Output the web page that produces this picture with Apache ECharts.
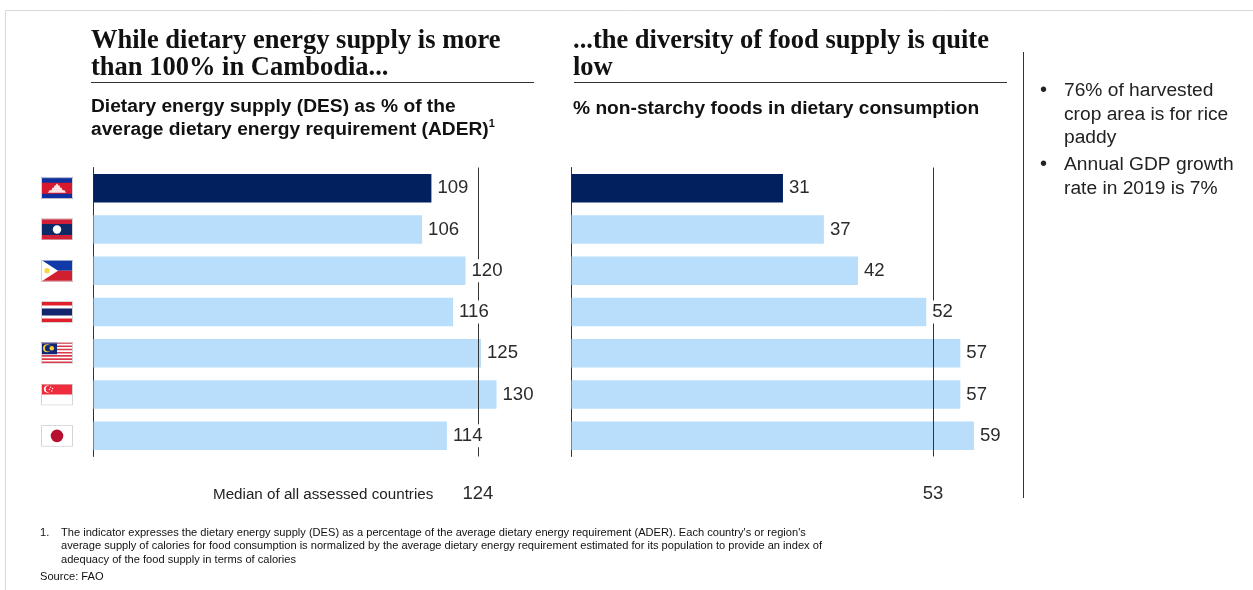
<!DOCTYPE html>
<html><head><meta charset="utf-8">
<style>html,body{margin:0;padding:0;background:#fff}#c{width:1253px;height:590px}</style>
<script src="https://cdn.jsdelivr.net/npm/echarts@6/dist/echarts.min.js"></script>
</head><body><div id="c"></div>
<script>
const countries = ['Cambodia','Laos','Philippines','Thailand','Malaysia','Singapore','Japan'];
const desValues = [109,106,120,116,125,130,114];
const diversityValues = [31,37,42,52,57,57,59];
const desMedian = 124;
const diversityMedian = 53;
const DARK = '#03205e', LIGHT = '#b8defc', TXT = '#2b2b2b';

function svg(body){
  const s = '<svg xmlns="http://www.w3.org/2000/svg" width="32" height="22" viewBox="0 0 32 22">'+body+
    '<rect x="0.5" y="0.5" width="31" height="21" fill="none" stroke="#d4d4d4"/></svg>';
  return 'data:image/svg+xml;charset=utf-8,'+encodeURIComponent(s);
}
const flags = {
  Cambodia: svg('<rect width="32" height="22" fill="#0f2f9e"/><rect y="5.5" width="32" height="11" fill="#d8182c"/><path d="M7 15.5l1.5-2.5 2 0 .8-2.5 1.4 0 .8-2.2 1 0 1.5-2.3 1.5 2.3 1 0 .8 2.2 1.4 0 .8 2.5 2 0 1.5 2.5z" fill="#fbe3e3"/>'),
  Laos: svg('<rect width="32" height="22" fill="#d01f36"/><rect y="5.5" width="32" height="11" fill="#0d2a66"/><circle cx="16" cy="11" r="4.2" fill="#fff"/>'),
  Philippines: svg('<rect width="32" height="11" fill="#0f3aa8"/><rect y="11" width="32" height="11" fill="#d21f30"/><path d="M0 0L17 11 0 22z" fill="#fff"/><circle cx="6" cy="11" r="2.6" fill="#f8d440"/>'),
  Thailand: svg('<rect width="32" height="22" fill="#fff"/><rect y="1" width="32" height="3.6" fill="#e0202c"/><rect y="17.4" width="32" height="3.6" fill="#e0202c"/><rect y="7.4" width="32" height="7.2" fill="#12246c"/>'),
  Malaysia: svg('<rect width="32" height="22" fill="#fff"/>'+[0,3.2,6.4,9.6,12.8,16,19.2].map(y=>'<rect y="'+y+'" width="32" height="1.6" fill="#db3a4a"/>').join('')+'<rect width="16" height="12" fill="#11267a"/><circle cx="6" cy="6" r="4" fill="#f6cf2c"/><circle cx="7.3" cy="6" r="3.3" fill="#11267a"/><circle cx="10.8" cy="6" r="2.3" fill="#f6cf2c"/>'),
  Singapore: svg('<rect width="32" height="22" fill="#fff"/><rect width="32" height="11" fill="#ee2c3c"/><circle cx="6.5" cy="5.5" r="3.6" fill="#fff"/><circle cx="8" cy="5.5" r="3.3" fill="#ee2c3c"/><circle cx="9.6" cy="3.6" r=".7" fill="#fff"/><circle cx="11.6" cy="5" r=".7" fill="#fff"/><circle cx="8.4" cy="5.8" r=".7" fill="#fff"/><circle cx="10.8" cy="7.4" r=".7" fill="#fff"/>'),
  Japan: svg('<rect width="32" height="22" fill="#fff"/><circle cx="16" cy="11" r="6.3" fill="#b80e2f"/>')
};
const flagRich = {};
countries.forEach(c => { flagRich[c] = {width:32, height:22, backgroundColor:{image:flags[c]}}; });

function barData(vals){ return vals.map((v,i)=>({value:v,itemStyle:{color:i===0?DARK:LIGHT}})); }
function seriesPair(idx, vals, median){
  return [{
    type:'bar', xAxisIndex:idx, yAxisIndex:idx, data:barData(vals), barWidth:28.5, z:2, silent:true,
    animation:false,
    markLine:{silent:true, symbol:'none', z:3, animation:false, lineStyle:{color:'#333',width:1,type:'solid'},
      label:{show:true, position:'end', distance:28, color:TXT, fontSize:18.5, fontFamily:'Liberation Sans', formatter:'{c}'},
      data:[{xAxis:median}]}
  },{
    type:'bar', xAxisIndex:idx, yAxisIndex:idx, data:vals, barWidth:28.5, barGap:'-100%', z:5, silent:true,
    animation:false, itemStyle:{color:'transparent'},
    label:{show:true, position:'right', distance:3, color:TXT, fontSize:18.6, fontFamily:'Liberation Sans',
      backgroundColor:'#fff', padding:[3,3,0,3], lineHeight:20}
  }];
}
const t = (x,y,text,size,extra)=>({type:'text',left:x,top:y,silent:true,style:Object.assign({text:text,fill:'#111',fontSize:size,fontFamily:'Liberation Sans',lineHeight:size*1.2},extra||{})});
const rule = (x1,y1,x2,y2,color)=>({type:'line',silent:true,shape:{x1,y1,x2,y2},style:{stroke:color||'#333',lineWidth:1}});
const titleStyle = {fontFamily:'Liberation Serif',fontWeight:'bold',fontSize:26.5,lineHeight:27,color:'#111'};

const chart = echarts.init(document.getElementById('c'),null,{renderer:'canvas'});
chart.setOption({
  animation:false, backgroundColor:'#fff',
  title:[
    {text:'While dietary energy supply is more\nthan 100% in Cambodia...', left:91, top:28, padding:0, textStyle:titleStyle},
    {text:'...the diversity of food supply is quite\nlow', left:573, top:28, padding:0, textStyle:titleStyle}
  ],
  grid:[
    {left:93.5, top:167.5, width:434, height:289},
    {left:571.5, top:167.5, width:477.5, height:289}
  ],
  xAxis:[
    {gridIndex:0,type:'value',min:0,max:140,show:false},
    {gridIndex:1,type:'value',min:0,max:70,show:false}
  ],
  yAxis:[
    {gridIndex:0,type:'category',inverse:true,data:countries,
      axisLine:{show:true,lineStyle:{color:'#333',width:1}},axisTick:{show:false},
      axisLabel:{margin:20.5,formatter:v=>'{'+v+'|}',rich:flagRich}},
    {gridIndex:1,type:'category',inverse:true,data:countries,
      axisLine:{show:true,lineStyle:{color:'#333',width:1}},axisTick:{show:false},axisLabel:{show:false}}
  ],
  series:[...seriesPair(0,desValues,desMedian),...seriesPair(1,diversityValues,diversityMedian)],
  graphic:[
    rule(5.5,10.5,1253,10.5,'#d9d9d9'), rule(5.5,10.5,5.5,590,'#d9d9d9'),
    rule(91,82.5,534,82.5), rule(574,82.5,1007,82.5), rule(1023.5,52,1023.5,498),
    {type:'text',left:91,top:97,silent:true,style:{
      rich:{b:{fontFamily:'Liberation Sans',fontWeight:'bold',fontSize:19.2,lineHeight:23,fill:'#111'},
            s:{fontFamily:'Liberation Sans',fontWeight:'bold',fontSize:11,lineHeight:23,verticalAlign:'top',fill:'#111'}},
      text:'{b|Dietary energy supply (DES) as % of the}\n{b|average dietary energy requirement (ADER)}{s|1}'}},
    t(573,97,'% non-starchy foods in dietary consumption',19.2,{fontWeight:'bold',lineHeight:23}),
    t(213,486,'Median of all assessed countries',15.2,{fill:'#222'}),
    t(1040,79,'•',20,{lineHeight:23.5,fill:'#222'}),
    t(1064,79,'76% of harvested\ncrop area is for rice\npaddy',19.2,{lineHeight:23.5,fill:'#222'}),
    t(1040,153,'•',20,{lineHeight:23.5,fill:'#222'}),
    t(1064,153,'Annual GDP growth\nrate in 2019 is 7%',19.2,{lineHeight:23.5,fill:'#222'}),
    t(40,526,'1.',11.1,{lineHeight:13.5}),
    t(61,526,"The indicator expresses the dietary energy supply (DES) as a percentage of the average dietary energy requirement (ADER). Each country's or region's\naverage supply of calories for food consumption is normalized by the average dietary energy requirement estimated for its population to provide an index of\nadequacy of the food supply in terms of calories",11.1,{lineHeight:13.5}),
    t(40,570,'Source: FAO',11.1,{lineHeight:13})
  ]
});
</script></body></html>
